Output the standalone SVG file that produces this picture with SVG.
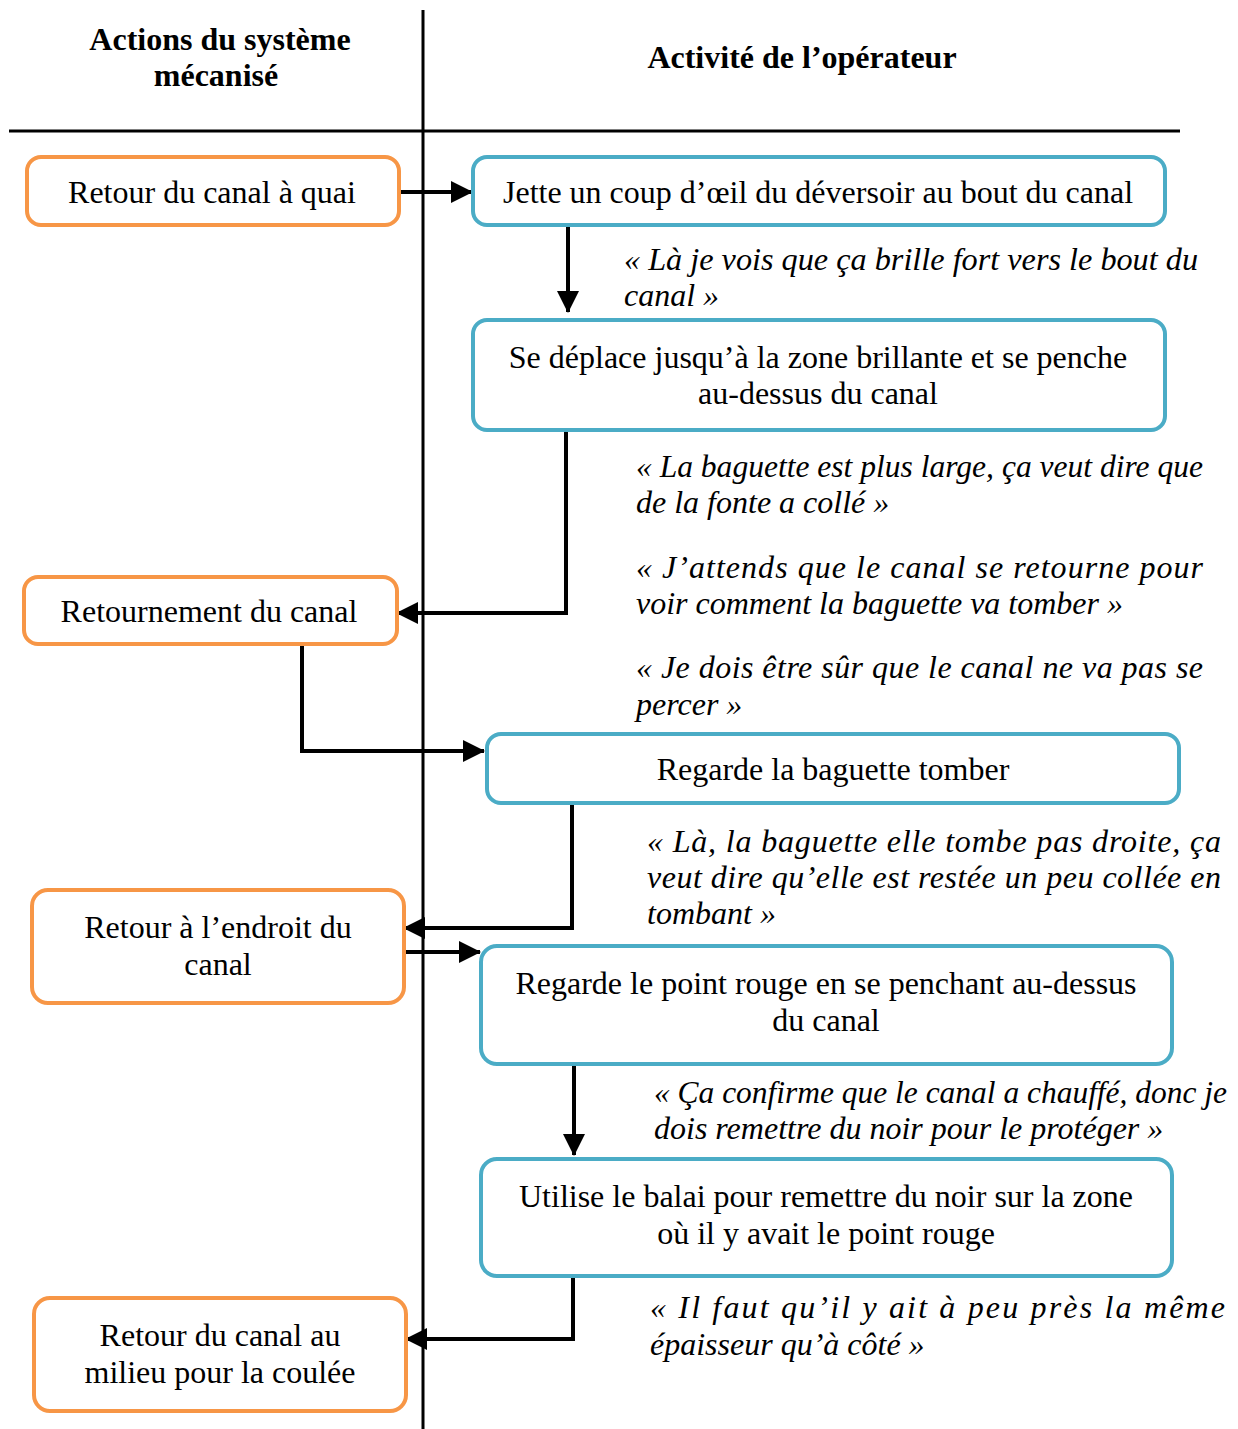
<svg xmlns="http://www.w3.org/2000/svg" width="1238" height="1429" viewBox="0 0 1238 1429">
<style>
.sys{fill:#fff;stroke:#F79646;stroke-width:4}
.op{fill:#fff;stroke:#4BACC6;stroke-width:4}
.t{font-family:"Liberation Serif","Times New Roman",serif;font-size:32px;fill:#000;text-anchor:middle}
.q{font-family:"Liberation Serif","Times New Roman",serif;font-size:32px;font-style:italic;fill:#000}
.h{font-family:"Liberation Serif","Times New Roman",serif;font-size:32px;font-weight:bold;fill:#000;text-anchor:middle}
.c{fill:none;stroke:#000;stroke-width:4;marker-end:url(#ah)}
</style>
<defs>
<marker id="ah" markerUnits="userSpaceOnUse" markerWidth="22" markerHeight="22" viewBox="0 0 22 22" refX="21" refY="11" orient="auto">
<path d="M0,0 L22,11 L0,22 Z" fill="#000"/>
</marker>
</defs>
<rect width="1238" height="1429" fill="#fff"/>
<g id="grid">
<line x1="423" y1="10" x2="423" y2="1429" stroke="#000" stroke-width="3"/>
<line x1="9" y1="131" x2="1180" y2="131" stroke="#000" stroke-width="3"/>
<text class="h" x="220" y="50">Actions du système</text>
<text class="h" x="216" y="86">mécanisé</text>
<text class="h" x="802" y="68">Activité de l’opérateur</text>
</g>
<g id="connectors">
<path class="c" d="M401,192 H472"/>
<path class="c" d="M568,225 V312"/>
<path class="c" d="M566,430 V613 H397"/>
<path class="c" d="M302,644 V751 H484"/>
<path class="c" d="M572,803 V928 H404"/>
<path class="c" d="M406,952 H480"/>
<path class="c" d="M574,1064 V1155"/>
<path class="c" d="M573,1276 V1339 H406"/>
</g>
<g id="n1"><rect class="sys" x="27" y="157" width="372" height="68" rx="14"/><text class="t" x="212" y="203">Retour du canal à quai</text></g>
<g id="n2"><rect class="op" x="473" y="157" width="692" height="68" rx="14"/><text class="t" x="818" y="203">Jette un coup d’œil du déversoir au bout du canal</text></g>
<g id="n3"><rect class="op" x="473" y="320" width="692" height="110" rx="14"/><text class="t" x="818" y="368">Se déplace jusqu’à la zone brillante et se penche</text><text class="t" x="818" y="404">au-dessus du canal</text></g>
<g id="n4"><rect class="sys" x="24" y="577" width="373" height="67" rx="14"/><text class="t" x="209" y="622">Retournement du canal</text></g>
<g id="n5"><rect class="op" x="487" y="734" width="692" height="69" rx="14"/><text class="t" x="833" y="780">Regarde la baguette tomber</text></g>
<g id="n6"><rect class="sys" x="32" y="890" width="372" height="113" rx="16"/><text class="t" x="218" y="938">Retour à l’endroit du</text><text class="t" x="218" y="975">canal</text></g>
<g id="n7"><rect class="op" x="481" y="946" width="691" height="118" rx="16"/><text class="t" x="826" y="994">Regarde le point rouge en se penchant au-dessus</text><text class="t" x="826" y="1031">du canal</text></g>
<g id="n8"><rect class="op" x="481" y="1159" width="691" height="117" rx="16"/><text class="t" x="826" y="1207">Utilise le balai pour remettre du noir sur la zone</text><text class="t" x="826" y="1244">où il y avait le point rouge</text></g>
<g id="n9"><rect class="sys" x="34" y="1298" width="372" height="113" rx="16"/><text class="t" x="220" y="1346">Retour du canal au</text><text class="t" x="220" y="1383">milieu pour la coulée</text></g>
<g id="quotes">
<text class="q" x="624" y="270" textLength="574" lengthAdjust="spacingAndGlyphs">« Là je vois que ça brille fort vers le bout du</text>
<text class="q" x="624" y="306">canal »</text>
<text class="q" x="636" y="477" textLength="567" lengthAdjust="spacingAndGlyphs">« La baguette est plus large, ça veut dire que</text>
<text class="q" x="636" y="513">de la fonte a collé »</text>
<text class="q" x="636" y="578" textLength="567" lengthAdjust="spacing">« J’attends que le canal se retourne pour</text>
<text class="q" x="636" y="614">voir comment la baguette va tomber »</text>
<text class="q" x="636" y="678" textLength="567" lengthAdjust="spacing">« Je dois être sûr que le canal ne va pas se</text>
<text class="q" x="636" y="715">percer »</text>
<text class="q" x="647" y="852" textLength="574" lengthAdjust="spacing">« Là, la baguette elle tombe pas droite, ça</text>
<text class="q" x="647" y="888" textLength="574" lengthAdjust="spacing">veut dire qu’elle est restée un peu collée en</text>
<text class="q" x="647" y="924">tombant »</text>
<text class="q" x="654" y="1103" textLength="573" lengthAdjust="spacingAndGlyphs">« Ça confirme que le canal a chauffé, donc je</text>
<text class="q" x="654" y="1139">dois remettre du noir pour le protéger »</text>
<text class="q" x="650" y="1318" textLength="575" lengthAdjust="spacing">« Il faut qu’il y ait à peu près la même</text>
<text class="q" x="650" y="1355">épaisseur qu’à côté »</text>
</g>
</svg>
